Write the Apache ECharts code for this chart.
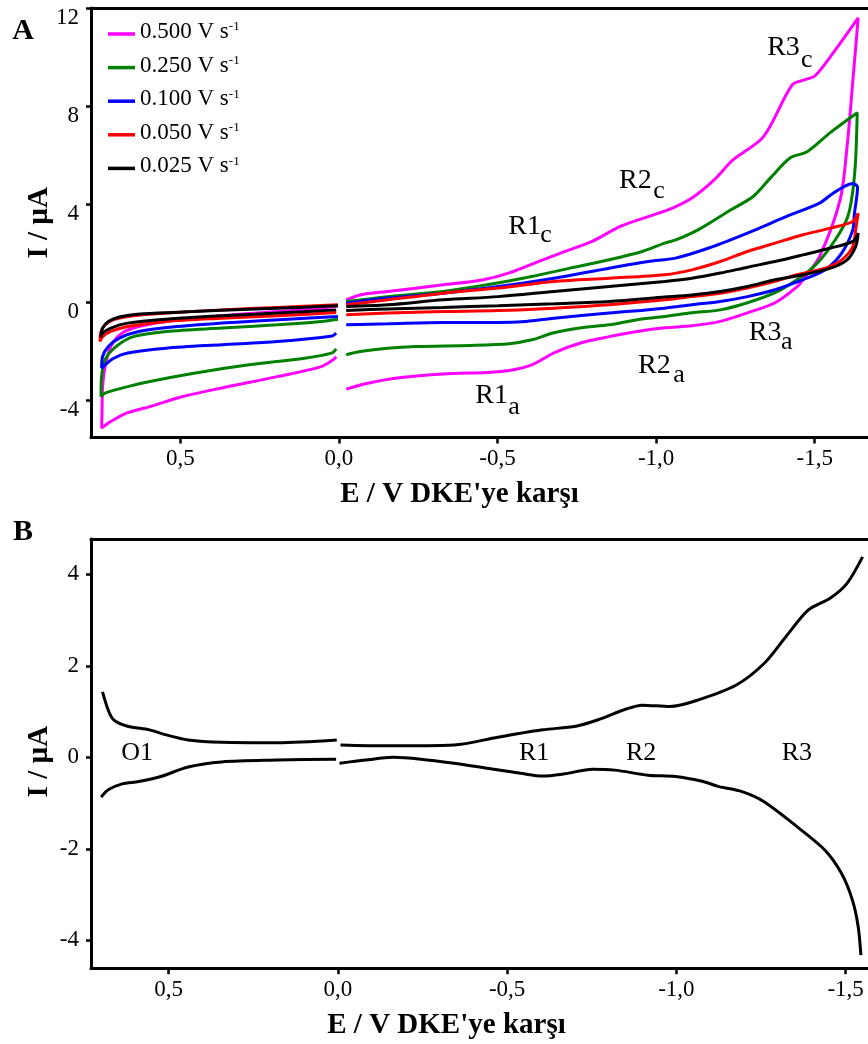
<!DOCTYPE html>
<html><head><meta charset="utf-8">
<script src="https://cdn.jsdelivr.net/npm/echarts@6.0.0/dist/echarts.min.js"></script>
<style>html,body{margin:0;padding:0;background:#fff}#c{width:868px;height:1044px}</style>
</head><body><div id="c"></div>
<script>
// ---------- DATA ----------
const scanRates = ['0.500 V s', '0.250 V s', '0.100 V s', '0.050 V s', '0.025 V s'];
const xTicks = [0.5, 0.0, -0.5, -1.0, -1.5];
const yTicksA = [-4, 0, 4, 8, 12];
const yTicksB = [-4, -2, 0, 2, 4];

// Panel A: [E (V), I (uA)] - right part (E<0) then left part (E>0)
const cv500Right = [[-0.023,0.11],[-0.067,0.31],[-0.154,0.45],[-0.329,0.72],[-0.451,0.92],[-0.537,1.21],[-0.643,1.74],[-0.713,2.08],[-0.798,2.49],[-0.887,3.10],[-0.975,3.50],[-1.053,3.86],[-1.114,4.27],[-1.183,5.0],[-1.243,5.82],[-1.338,6.75],[-1.429,8.87],[-1.470,9.08],[-1.501,9.24],[-1.549,10.01],[-1.637,11.6],
  [-1.620,9.0],[-1.602,6.35],[-1.580,4.18],[-1.515,1.87],[-1.463,0.93],[-1.444,0.64],[-1.375,-0.01],[-1.288,-0.42],[-1.202,-0.77],[-1.113,-0.95],[-1.027,-1.03],[-0.940,-1.18],[-0.852,-1.39],[-0.764,-1.64],[-0.678,-2.05],[-0.608,-2.54],[-0.537,-2.77],[-0.467,-2.85],[-0.329,-2.91],[-0.189,-3.07],[-0.084,-3.31],[-0.023,-3.53]];
const cv500Left = [[0.0085,-2.21],[0.018,-2.33],[0.056,-2.61],[0.194,-3.02],[0.369,-3.48],[0.492,-3.83],[0.596,-4.24],[0.666,-4.49],[0.719,-4.85],[0.748,-5.11],[0.747,-4.5],[0.745,-3.42],[0.737,-2.61],[0.719,-1.79],[0.684,-1.25],[0.631,-0.98],[0.544,-0.77],[0.369,-0.54],[0.194,-0.37],[0.056,-0.23],[0.003,-0.13]];

const cv250Right = [[-0.023,0.04],[-0.154,0.24],[-0.329,0.45],[-0.467,0.72],[-0.608,1.06],[-0.729,1.40],[-0.852,1.74],[-0.956,2.08],[-1.027,2.42],[-1.062,2.55],[-1.132,2.96],[-1.236,3.78],[-1.306,4.32],[-1.362,5.1],[-1.423,5.90],[-1.476,6.14],[-1.549,6.92],[-1.634,7.73],
  [-1.628,5.6],[-1.615,4.1],[-1.598,3.3],[-1.550,2.28],[-1.498,1.47],[-1.444,0.93],[-1.375,0.40],[-1.288,-0.01],[-1.202,-0.30],[-1.113,-0.42],[-1.027,-0.57],[-0.940,-0.70],[-0.852,-0.91],[-0.764,-1.03],[-0.678,-1.23],[-0.608,-1.52],[-0.537,-1.68],[-0.416,-1.75],[-0.240,-1.79],[-0.154,-1.86],[-0.067,-2.0],[-0.023,-2.13]];
const cv250Left = [[0.0085,-1.89],[0.021,-2.05],[0.108,-2.27],[0.283,-2.54],[0.457,-2.88],[0.596,-3.22],[0.684,-3.49],[0.737,-3.69],[0.750,-3.83],[0.749,-3.15],[0.737,-2.33],[0.702,-1.79],[0.648,-1.39],[0.544,-1.18],[0.369,-1.04],[0.194,-0.91],[0.056,-0.77],[0.003,-0.68]];

const cv100Right = [[-0.023,-0.03],[-0.154,0.18],[-0.329,0.38],[-0.502,0.65],[-0.678,0.99],[-0.852,1.40],[-0.975,1.67],[-1.061,1.81],[-1.166,2.22],[-1.288,2.83],[-1.410,3.5],[-1.515,4.05],[-1.558,4.45],[-1.620,4.85],[-1.635,4.7],
  [-1.625,3.6],[-1.620,2.96],[-1.585,2.01],[-1.533,1.33],[-1.463,0.93],[-1.375,0.52],[-1.288,0.24],[-1.202,0.04],[-1.113,-0.09],[-1.027,-0.23],[-0.852,-0.43],[-0.678,-0.64],[-0.590,-0.77],[-0.502,-0.81],[-0.329,-0.81],[-0.154,-0.87],[-0.023,-0.91]];
const cv100Left = [[0.0085,-1.25],[0.021,-1.36],[0.194,-1.59],[0.369,-1.72],[0.544,-1.86],[0.666,-2.06],[0.710,-2.27],[0.737,-2.54],[0.748,-2.67],[0.745,-2.2],[0.727,-1.79],[0.692,-1.45],[0.631,-1.18],[0.510,-0.98],[0.335,-0.81],[0.160,-0.68],[0.003,-0.57]];

const cv050Right = [[-0.023,-0.09],[-0.154,0.11],[-0.329,0.38],[-0.502,0.59],[-0.678,0.86],[-0.852,0.99],[-1.027,1.13],[-1.113,1.33],[-1.202,1.67],[-1.288,2.08],[-1.375,2.42],[-1.463,2.76],[-1.550,3.03],[-1.620,3.30],[-1.637,3.64],
  [-1.629,2.96],[-1.620,2.28],[-1.585,1.74],[-1.533,1.40],[-1.444,1.13],[-1.375,0.86],[-1.288,0.59],[-1.202,0.38],[-1.113,0.24],[-1.027,0.11],[-0.852,-0.09],[-0.678,-0.23],[-0.502,-0.33],[-0.329,-0.37],[-0.154,-0.43],[-0.023,-0.50]];
const cv050Left = [[0.0085,-0.41],[0.194,-0.54],[0.369,-0.64],[0.544,-0.77],[0.666,-0.98],[0.719,-1.18],[0.745,-1.39],[0.753,-1.59],[0.750,-1.18],[0.737,-0.91],[0.710,-0.70],[0.648,-0.54],[0.544,-0.43],[0.369,-0.30],[0.194,-0.20],[0.003,-0.09]];

const cv025Right = [[-0.023,-0.16],[-0.154,-0.09],[-0.329,0.11],[-0.502,0.24],[-0.678,0.45],[-0.852,0.65],[-1.027,0.86],[-1.113,0.99],[-1.202,1.20],[-1.288,1.44],[-1.375,1.67],[-1.463,1.94],[-1.550,2.22],[-1.620,2.49],[-1.637,2.83],
  [-1.629,2.28],[-1.602,1.74],[-1.550,1.40],[-1.463,1.13],[-1.375,0.93],[-1.288,0.65],[-1.202,0.45],[-1.113,0.31],[-1.027,0.22],[-0.852,0.04],[-0.678,-0.05],[-0.502,-0.13],[-0.329,-0.20],[-0.154,-0.26],[-0.023,-0.33]];
const cv025Left = [[0.0085,-0.30],[0.194,-0.43],[0.369,-0.54],[0.544,-0.68],[0.666,-0.84],[0.719,-1.04],[0.745,-1.25],[0.750,-1.41],[0.745,-1.04],[0.727,-0.77],[0.692,-0.59],[0.614,-0.46],[0.457,-0.37],[0.283,-0.27],[0.108,-0.19],[0.003,-0.13]];

// Panel B
const dpvUpperLeft = [[0.695,1.43],[0.678,1.03],[0.662,0.82],[0.621,0.68],[0.556,0.60],[0.507,0.49],[0.442,0.38],[0.343,0.33],[0.179,0.32],[0.003,0.38]];
const dpvUpperRight = [[-0.008,0.27],[-0.147,0.25],[-0.343,0.27],[-0.473,0.44],[-0.605,0.60],[-0.703,0.68],[-0.769,0.82],[-0.850,1.05],[-0.899,1.14],[-0.981,1.11],[-1.063,1.25],[-1.177,1.58],[-1.259,2.05],[-1.324,2.64],[-1.390,3.22],[-1.455,3.48],[-1.504,3.80],[-1.550,4.38]];
const dpvLowerRight = [[-0.005,-0.13],[-0.082,-0.06],[-0.163,0.0],[-0.245,-0.04],[-0.343,-0.13],[-0.441,-0.24],[-0.540,-0.35],[-0.605,-0.41],[-0.670,-0.36],[-0.752,-0.26],[-0.818,-0.28],[-0.916,-0.39],[-0.997,-0.42],[-1.079,-0.53],[-1.126,-0.64],[-1.194,-0.75],[-1.259,-0.97],[-1.357,-1.52],[-1.439,-2.03],[-1.488,-2.54],[-1.520,-3.12],[-1.537,-3.70],[-1.545,-4.32]];
const dpvLowerLeft = [[0.005,-0.04],[0.179,-0.06],[0.343,-0.10],[0.442,-0.21],[0.523,-0.42],[0.588,-0.53],[0.637,-0.58],[0.678,-0.71],[0.699,-0.87]];

// Annotations: main label [E, I, text] and subscript [E, I, text]
const annotA = [[-1.350,10.38,'R3'],[-0.883,4.98,'R2'],[-0.534,3.08,'R1'],[-0.430,-3.80,'R1'],[-0.943,-2.58,'R2'],[-1.292,-1.21,'R3']];
const annotASub = [[-1.457,9.89,'c'],[-0.991,4.55,'c'],[-0.635,2.76,'c'],[-0.534,-4.25,'a'],[-1.054,-2.97,'a'],[-1.394,-1.60,'a']];
const annotB = [[0.640,0.094,'O1'],[-0.535,0.094,'R1'],[-0.851,0.094,'R2'],[-1.311,0.094,'R3']];

// ---------- CHART ----------
const FONT = '"Liberation Serif", "Times New Roman", serif';
const colors = ['#ff00ff', '#008000', '#0000ff', '#ff0000', '#000000'];
const GAP = [null, null];
const cvSets = [
  [cv500Right, cv500Left], [cv250Right, cv250Left], [cv100Right, cv100Left],
  [cv050Right, cv050Left], [cv025Right, cv025Left]
];
const fmtE = v => v.toFixed(1).replace('.', ',').replace(/^-0,0$/, '0,0');

function xAxisDef(grid, min, max, nameGap, namePad) {
  return {
    gridIndex: grid, type: 'value', inverse: true, min: min, max: max,
    axisLine: { show: true, onZero: false, lineStyle: { color: '#000', width: 3 } },
    axisTick: { show: true, inside: false, length: 6, customValues: xTicks, lineStyle: { color: '#000', width: 2.5 } },
    axisLabel: { show: true, customValues: xTicks, formatter: fmtE, margin: 10, fontSize: 23, fontFamily: FONT, color: '#000' },
    splitLine: { show: false },
    name: "E / V DKE'ye karşı", nameLocation: 'middle', nameGap: nameGap, nameMoveOverlap: false,
    nameTextStyle: { fontSize: 29, fontWeight: 'bold', fontFamily: FONT, color: '#000', padding: [0, namePad, 0, 0] }
  };
}
function topAxisDef(grid, min, max) {
  return {
    gridIndex: grid, type: 'value', position: 'top', inverse: true, min: min, max: max,
    axisLine: { show: true, onZero: false, lineStyle: { color: '#000', width: 3 } },
    axisTick: { show: false }, axisLabel: { show: false }, splitLine: { show: false }
  };
}
function yAxisDef(grid, min, max, ticks, shifted, namePad) {
  const lbl = { show: true, customValues: ticks, margin: 12, fontSize: 23, fontFamily: FONT, color: '#000' };
  if (shifted) { lbl.verticalAlign = 'top'; lbl.lineHeight = 19; }
  return {
    gridIndex: grid, type: 'value', min: min, max: max,
    axisLine: { show: true, onZero: false, lineStyle: { color: '#000', width: 3 } },
    axisTick: { show: true, inside: false, length: 5, customValues: ticks, lineStyle: { color: '#000', width: 2.5 } },
    axisLabel: lbl,
    splitLine: { show: false },
    name: 'I / µA', nameLocation: 'middle', nameGap: 37, nameMoveOverlap: false,
    nameTextStyle: { fontSize: 29, fontWeight: 'bold', fontFamily: FONT, color: '#000', padding: [0, namePad, 0, 0] }
  };
}
function textSeries(name, grid, items, size) {
  return {
    type: 'scatter', name: name, xAxisIndex: grid, yAxisIndex: grid, symbolSize: 0, silent: true, z: 10,
    data: items.map(a => ({ value: [a[0], a[1]], t: a[2] })),
    label: { show: true, position: 'right', distance: 0, formatter: p => p.data.t,
             fontSize: size, fontFamily: FONT, color: '#000', opacity: 1, textBorderWidth: 0 }
  };
}

const series = [];
cvSets.forEach((pair, i) => {
  series.push({
    type: 'line', name: scanRates[i], xAxisIndex: 0, yAxisIndex: 0,
    data: pair[0].concat([GAP], pair[1]),
    smooth: 0.3, showSymbol: false, symbol: 'none', connectNulls: false,
    lineStyle: { color: colors[i], width: 3 }, itemStyle: { color: colors[i] },
    z: 2 + i, silent: true
  });
});
series.push({
  type: 'line', name: 'B', xAxisIndex: 1, yAxisIndex: 1,
  data: dpvUpperLeft.concat([GAP], dpvUpperRight, [GAP], dpvLowerRight, [GAP], dpvLowerLeft),
  smooth: 0.3, showSymbol: false, symbol: 'none', connectNulls: false,
  lineStyle: { color: '#000', width: 3 }, itemStyle: { color: '#000' }, silent: true
});
series.push(textSeries('annotA', 0, annotA, 28));
series.push(textSeries('annotASub', 0, annotASub, 26));
series.push(textSeries('annotB', 1, annotB, 26));

const option = {
  animation: false,
  backgroundColor: '#fff',
  grid: [
    { left: 91, top: 8, right: 0, height: 429.5, outerBoundsMode: 'none', containLabel: false },
    { left: 91, top: 539, right: 0, height: 429.3, outerBoundsMode: 'none', containLabel: false }
  ],
  xAxis: [
    xAxisDef(0, -1.668, 0.7816, 43, 40),
    xAxisDef(1, -1.566, 0.729, 43, 66),
    topAxisDef(0, -1.668, 0.7816),
    topAxisDef(1, -1.566, 0.729)
  ],
  yAxis: [
    yAxisDef(0, -5.5, 12, yTicksA, true, 0),
    yAxisDef(1, -4.61, 4.77, yTicksB, false, 16)
  ],
  legend: {
    data: scanRates, orient: 'vertical', left: 108, top: 20.5, itemGap: 10.6, padding: 0,
    icon: 'rect', itemWidth: 27, itemHeight: 3.5, selectedMode: false,
    formatter: n => '{n|' + n + '}{s|-1}',
    textStyle: {
      color: '#000', fontFamily: FONT,
      rich: {
        n: { fontSize: 23, lineHeight: 27, fontFamily: FONT, color: '#000', verticalAlign: 'top' },
        s: { fontSize: 13, lineHeight: 13, fontFamily: FONT, color: '#000', verticalAlign: 'top' }
      }
    }
  },
  graphic: [
    { type: 'text', x: 23, y: 31, style: { text: 'A', font: 'bold 30px "Liberation Serif"', fill: '#000', textAlign: 'center', textVerticalAlign: 'middle' } },
    { type: 'text', x: 23, y: 532, style: { text: 'B', font: 'bold 30px "Liberation Serif"', fill: '#000', textAlign: 'center', textVerticalAlign: 'middle' } }
  ],
  series: series
};
const chart = echarts.init(document.getElementById('c'), null, { renderer: 'canvas' });
chart.setOption(option);
</script>
</body></html>
